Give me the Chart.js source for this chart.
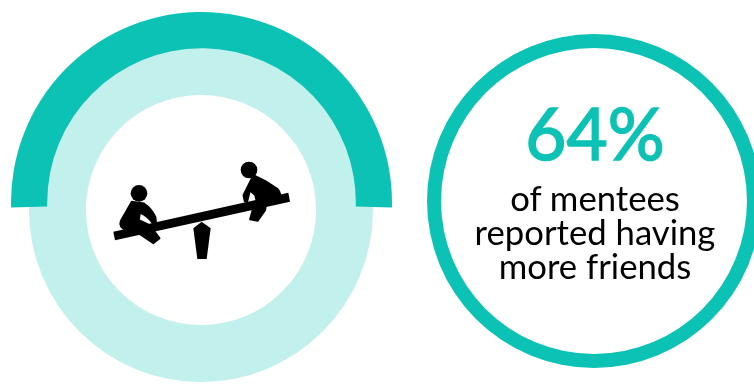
<!DOCTYPE html>
<html>
<head>
<meta charset="utf-8">
<title>Mentees reporting more friends</title>
<script src="https://cdn.jsdelivr.net/npm/chart.js@4"></script>
<style>
  html, body { margin: 0; padding: 0; background: #fff; }
  #page { position: relative; width: 754px; height: 385px; overflow: hidden; font-family: Lato, sans-serif; }
  canvas, svg { position: absolute; }
  #paleRing { left: 29px; top: 38px; }
  #gauge { left: 11px; top: 12px; }
  #statRing { left: 427px; top: 34px; }
  #seesaw { left: 90px; top: 140px; }
  .kid { stroke: #000; stroke-width: 5; stroke-linejoin: round; }
  .label { position: absolute; left: 427px; width: 336px; text-align: center; }
  #percent { top: 92px; font-size: 71px; line-height: 82px; color: #0cc2b5; -webkit-text-stroke: 1.6px #0cc2b5; }
  #caption { top: 181px; font-size: 34.7px; line-height: 34px; color: #000; }
</style>
</head>
<body>
<div id="page">
  <canvas id="paleRing" width="344" height="344"></canvas>
  <canvas id="gauge" width="381" height="381"></canvas>
  <canvas id="statRing" width="334" height="334"></canvas>

  <svg id="seesaw" width="220" height="130" viewBox="0 0 660 390">
    <path d="M70 275 L595 158 L600 185 L75 301 Z"/>
    <path d="M335 245 L362 265 L350 357 L322 357 L310 265 Z"/>
    <circle cx="147" cy="160" r="25"/>
    <path class="kid" d="M125 185 L162 190 Q185 205 197 232 L198 248 L187 248 Q172 228 150 218 L147 240 L180 256 L209 295 L190 310 L150 283 L110 272 Q85 262 92 243 Z"/>
    <circle cx="477" cy="90" r="25"/>
    <path class="kid" d="M490 105 L525 122 L563 147 Q575 160 568 176 L528 195 L526 210 L503 243 L480 238 L489 205 L500 185 L495 165 L480 152 L472 185 L464 185 L460 165 Z"/>
  </svg>

  <div class="label" id="percent"></div>
  <div class="label" id="caption"></div>
</div>

<script>
const percentLabel = '64%';
const captionLines = ['of mentees', 'reported having', 'more friends'];

const gaugeValues = [64, 36];
const paleValues = [100];
const statValues = [100];

const teal = '#0cc2b5';
const pale = '#c2f0ec';

// the teal part of the gauge spans just over a half turn
const gaugeArc = 183;
const gaugeSweep = gaugeArc * (gaugeValues[0] + gaugeValues[1]) / gaugeValues[0];

function drawRing(id, values, colors, cutout, rotation, circumference) {
    return new Chart(document.getElementById(id), {
        type: 'doughnut',
        data: {
            datasets: [{
                data: values,
                backgroundColor: colors,
                borderWidth: 0
            }]
        },
        options: {
            responsive: false,
            animation: false,
            cutout: cutout,
            rotation: rotation,
            circumference: circumference,
            plugins: {
                legend: { display: false },
                tooltip: { enabled: false }
            }
        }
    });
}

drawRing('paleRing', paleValues, [pale], '66.9%', 0, 360);
drawRing('gauge', gaugeValues, [teal, 'rgba(0,0,0,0)'], '81%', -gaugeArc / 2, gaugeSweep);
drawRing('statRing', statValues, [teal], '91.6%', 0, 360);

document.getElementById('percent').textContent = percentLabel;
document.getElementById('caption').innerHTML = captionLines.join('<br>');
</script>
</body>
</html>
